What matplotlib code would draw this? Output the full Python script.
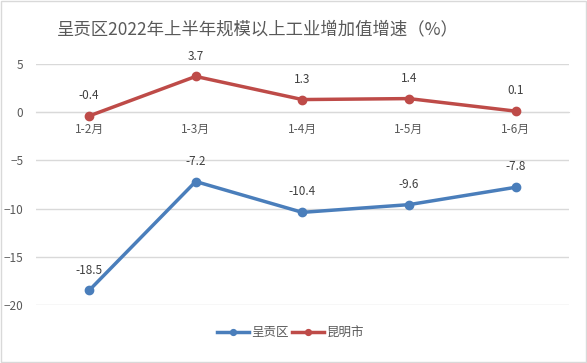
import matplotlib.pyplot as plt
import numpy as np

plt.rcParams['font.family'] = ['Noto Sans CJK SC', 'DejaVu Sans']

# 数据
meses = ['1-2月', '1-3月', '1-4月', '1-5月', '1-6月']
chenggong = [-18.5, -7.2, -10.4, -9.6, -7.8]
kunming = [-0.4, 3.7, 1.3, 1.4, 0.1]
y_ticks = [5, 0, -5, -10, -15, -20]

COR_AZUL = '#4A7EBB'
COR_VERM = '#BE4B48'
COR_TXT = '#595959'

fig = plt.figure(figsize=(5.87, 3.63), dpi=100)
ax = fig.add_axes([0.061, 0.160, 0.908, 0.664])

x = np.arange(len(meses))
ax.plot(x, chenggong, color=COR_AZUL, linewidth=2.5, marker='o', markersize=6, label='呈贡区', zorder=3)
ax.plot(x, kunming, color=COR_VERM, linewidth=2.5, marker='o', markersize=6, label='昆明市', zorder=3)

for xi, v in zip(x, chenggong):
    ax.annotate(f'{v}', (xi, v), xytext=(0, 10), textcoords='offset points',
                ha='center', va='bottom', fontsize=8.5, color='#404040')
for xi, v in zip(x, kunming):
    ax.annotate(f'{v}', (xi, v), xytext=(0, 10), textcoords='offset points',
                ha='center', va='bottom', fontsize=8.5, color='#404040')

ax.set_xlim(-0.5, len(meses) - 0.5)
ax.set_ylim(-20, 5)
ax.set_yticks(y_ticks)
ax.set_xticks(x)
ax.set_xticklabels(meses)

# eixo x sobre o zero
for s in ['top', 'right', 'left']:
    ax.spines[s].set_visible(False)
ax.spines['bottom'].set_position(('data', 0))
ax.spines['bottom'].set_color('#D9D9D9')
ax.tick_params(axis='both', length=0, labelsize=8.5, labelcolor=COR_TXT)
ax.tick_params(axis='x', pad=8)
ax.tick_params(axis='y', pad=9)
ax.grid(True, axis='y', color='#D9D9D9', linewidth=1)
ax.set_axisbelow(True)

fig.text(0.44, 0.92, '呈贡区2022年上半年规模以上工业增加值增速（%）', ha='center', va='center',
         fontsize=12.5, color=COR_TXT)

fig.legend(loc='center', bbox_to_anchor=(0.495, 0.083), ncol=2, frameon=False,
           fontsize=9, labelcolor=COR_TXT, handlelength=2.5, columnspacing=0.3,
           handletextpad=0.2, markerscale=0.7)

# borda
fig.patches.append(plt.Rectangle((0.002, 0.003), 0.996, 0.994, transform=fig.transFigure,
                                 fill=False, edgecolor='#D9D9D9', linewidth=1))

fig.savefig('out.png', dpi=100)
